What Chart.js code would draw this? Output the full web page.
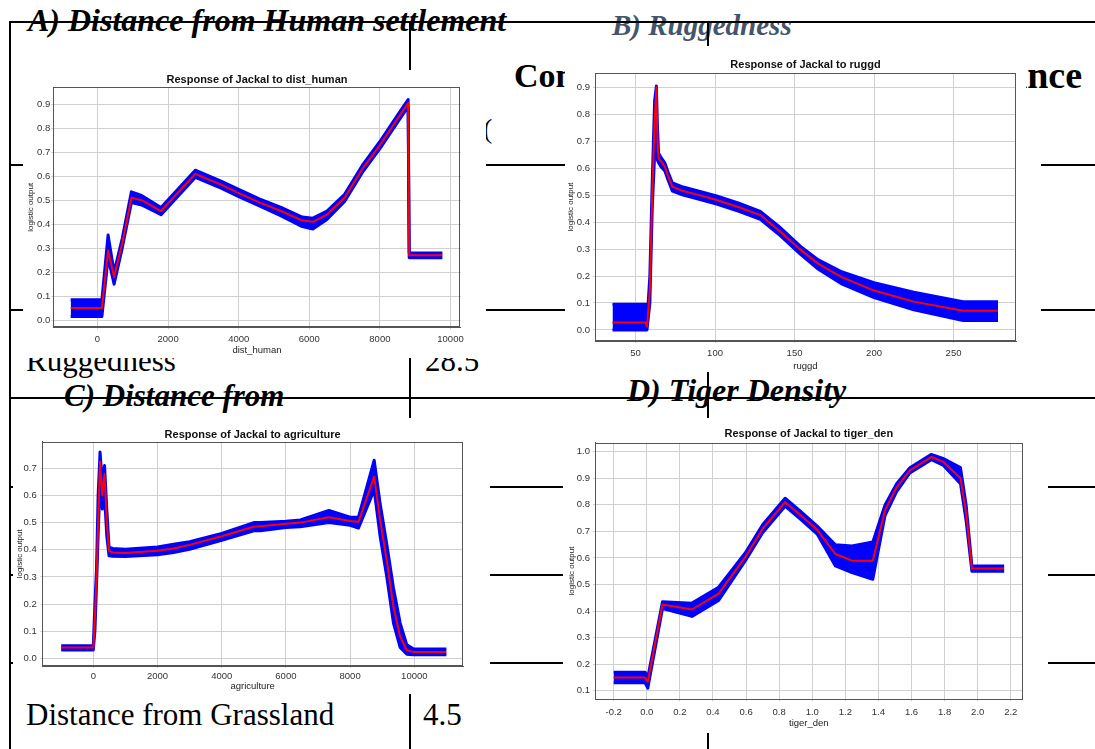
<!DOCTYPE html>
<html><head><meta charset="utf-8">
<title>Jackal response curves</title>
<script src="https://cdn.jsdelivr.net/npm/chart.js@4.4.1/dist/chart.umd.min.js"></script>
<style>
html,body{margin:0;padding:0;background:#fff;}
body{position:relative;width:1095px;height:749px;overflow:hidden;}
.ln{position:absolute;background:#000;z-index:1;}
.tx{position:absolute;white-space:nowrap;line-height:1;font-family:"Liberation Serif","Times New Roman",serif;color:#000;z-index:0;}
.bi{font-weight:bold;font-style:italic;}
.cv{position:absolute;background:#fff;z-index:2;}
</style></head>
<body>
<div class="tx bi" style="left:28px;top:4px;font-size:32px;">A) Distance from Human settlement</div>
<div class="tx bi" style="left:612px;top:11px;font-size:29px;color:#44546A;">B) Ruggedness</div>
<div class="tx" style="left:514px;top:59px;font-size:34px;font-weight:bold;">Contribution</div>
<div class="tx" style="right:13px;top:56px;font-size:38px;font-weight:bold;">Importance</div>
<div class="tx" style="left:483px;top:115px;font-size:28px;">(</div>
<div class="tx" style="left:26px;top:345px;font-size:31px;">Ruggedness</div>
<div class="tx" style="left:425px;top:345px;font-size:31px;">28.5</div>
<div class="tx bi" style="left:64px;top:380px;font-size:31px;">C) Distance from</div>
<div class="tx bi" style="left:627px;top:374px;font-size:32px;">D) Tiger Density</div>
<div class="tx" style="left:26px;top:699px;font-size:31px;">Distance from Grassland</div>
<div class="tx" style="left:423px;top:699px;font-size:31px;">4.5</div>

<div class="ln" style="left:10px;top:21px;width:1085px;height:2px;"></div>
<div class="ln" style="left:9px;top:21px;width:2px;height:728px;"></div>
<div class="ln" style="left:409px;top:21px;width:2px;height:728px;"></div>
<div class="ln" style="left:707px;top:21px;width:2px;height:728px;"></div>
<div class="ln" style="left:10px;top:164px;width:1012px;height:2px;"></div>
<div class="ln" style="left:1041px;top:164px;width:54px;height:2px;"></div>
<div class="ln" style="left:10px;top:309px;width:1012px;height:2px;"></div>
<div class="ln" style="left:1041px;top:309px;width:54px;height:2px;"></div>
<div class="ln" style="left:10px;top:397px;width:1085px;height:2px;"></div>
<div class="ln" style="left:10px;top:486px;width:1085px;height:2px;"></div>
<div class="ln" style="left:10px;top:574px;width:1085px;height:2px;"></div>
<div class="ln" style="left:10px;top:662px;width:1085px;height:2px;"></div>

<canvas id="cA" class="cv" width="463" height="288" style="left:23px;top:70px;"></canvas>
<canvas id="cB" class="cv" width="461" height="326" style="left:565px;top:46px;"></canvas>
<canvas id="cC" class="cv" width="477" height="276" style="left:13px;top:418px;"></canvas>
<canvas id="cD" class="cv" width="485" height="315" style="left:563px;top:418px;"></canvas>

<script>
// ---------- A) dist_human ----------
const xA     = [-760, 125, 300, 470, 700, 960, 1250, 1800, 2770, 3500, 4000, 4600, 5200, 5800, 6100, 6500, 7000, 7500, 8000, 8500, 8800, 8830, 9770];
const meanA  = [0.05, 0.05, 0.29, 0.18, 0.32, 0.51, 0.50, 0.455, 0.61, 0.565, 0.53, 0.49, 0.455, 0.415, 0.41, 0.44, 0.51, 0.63, 0.73, 0.84, 0.905, 0.27, 0.27];
const upperA = [0.085, 0.085, 0.355, 0.20, 0.34, 0.535, 0.52, 0.47, 0.625, 0.58, 0.545, 0.505, 0.47, 0.43, 0.425, 0.455, 0.525, 0.645, 0.745, 0.855, 0.92, 0.28, 0.28];
const lowerA = [0.015, 0.015, 0.26, 0.15, 0.30, 0.49, 0.48, 0.44, 0.595, 0.55, 0.515, 0.475, 0.435, 0.39, 0.38, 0.42, 0.495, 0.615, 0.715, 0.825, 0.89, 0.26, 0.26];
const xTicksA = [0, 2000, 4000, 6000, 8000, 10000];
const yTicksA = [0.0, 0.1, 0.2, 0.3, 0.4, 0.5, 0.6, 0.7, 0.8, 0.9];

// ---------- B) ruggd ----------
const xB     = [35.5, 56.3, 57.2, 59, 60.5, 62, 63.1, 63.8, 64.5, 66, 68.4, 70.5, 73.2, 80, 90, 101, 115, 128.5, 140, 153.8, 165, 180, 200, 225, 256, 278];
const meanB  = [0.028, 0.028, 0.012, 0.15, 0.5, 0.77, 0.90, 0.70, 0.637, 0.625, 0.606, 0.57, 0.531, 0.515, 0.50, 0.482, 0.455, 0.426, 0.37, 0.297, 0.245, 0.195, 0.146, 0.105, 0.071, 0.071];
const upperB = [0.095, 0.095, 0.03, 0.2, 0.55, 0.85, 0.905, 0.75, 0.655, 0.64, 0.62, 0.585, 0.545, 0.53, 0.515, 0.497, 0.47, 0.44, 0.385, 0.31, 0.26, 0.215, 0.175, 0.14, 0.105, 0.105];
const lowerB = [0.0, 0.0, 0.0, 0.1, 0.45, 0.65, 0.70, 0.63, 0.62, 0.605, 0.59, 0.555, 0.515, 0.50, 0.485, 0.467, 0.44, 0.41, 0.355, 0.28, 0.225, 0.17, 0.12, 0.075, 0.035, 0.035];
const xTicksB = [50, 100, 150, 200, 250];
const yTicksB = [0.0, 0.1, 0.2, 0.3, 0.4, 0.5, 0.6, 0.7, 0.8, 0.9];

// ---------- C) agriculture ----------
const xC     = [-1000, 0, 50, 100, 150, 210, 280, 350, 420, 490, 600, 1000, 2000, 2500, 3000, 4000, 5000, 5200, 6000, 6450, 7340, 8000, 8260, 8750, 8935, 9143, 9350, 9560, 9766, 9970, 11000];
const meanC  = [0.04, 0.04, 0.15, 0.30, 0.50, 0.725, 0.60, 0.68, 0.50, 0.395, 0.39, 0.388, 0.396, 0.405, 0.418, 0.45, 0.485, 0.487, 0.496, 0.50, 0.52, 0.506, 0.503, 0.67, 0.51, 0.36, 0.19, 0.08, 0.03, 0.024, 0.024];
const upperC = [0.047, 0.047, 0.2, 0.33, 0.6, 0.76, 0.65, 0.71, 0.55, 0.41, 0.405, 0.402, 0.41, 0.42, 0.43, 0.46, 0.50, 0.50, 0.505, 0.51, 0.545, 0.52, 0.52, 0.73, 0.57, 0.42, 0.26, 0.13, 0.05, 0.035, 0.035];
const lowerC = [0.031, 0.031, 0.1, 0.27, 0.45, 0.65, 0.55, 0.60, 0.45, 0.378, 0.376, 0.375, 0.382, 0.39, 0.402, 0.435, 0.47, 0.47, 0.482, 0.485, 0.5, 0.49, 0.48, 0.62, 0.45, 0.30, 0.13, 0.04, 0.015, 0.013, 0.013];
const xTicksC = [0, 2000, 4000, 6000, 8000, 10000];
const yTicksC = [0.0, 0.1, 0.2, 0.3, 0.4, 0.5, 0.6, 0.7];

// ---------- D) tiger_den ----------
const xD     = [-0.2, -0.01, 0.006, 0.095, 0.273, 0.434, 0.596, 0.70, 0.836, 0.93, 1.03, 1.14, 1.24, 1.366, 1.44, 1.51, 1.59, 1.72, 1.79, 1.896, 1.93, 1.965, 2.16];
const meanD  = [0.15, 0.15, 0.134, 0.425, 0.406, 0.466, 0.604, 0.71, 0.81, 0.761, 0.706, 0.615, 0.59, 0.59, 0.78, 0.866, 0.93, 0.98, 0.963, 0.90, 0.77, 0.56, 0.56];
const upperD = [0.17, 0.17, 0.15, 0.435, 0.43, 0.49, 0.62, 0.725, 0.825, 0.775, 0.72, 0.65, 0.645, 0.66, 0.80, 0.88, 0.94, 0.99, 0.975, 0.94, 0.80, 0.57, 0.57];
const lowerD = [0.13, 0.13, 0.11, 0.41, 0.38, 0.44, 0.59, 0.695, 0.795, 0.745, 0.69, 0.57, 0.545, 0.52, 0.76, 0.85, 0.92, 0.97, 0.95, 0.88, 0.74, 0.55, 0.55];
const xTicksD = [-0.2, 0.0, 0.2, 0.4, 0.6, 0.8, 1.0, 1.2, 1.4, 1.6, 1.8, 2.0, 2.2];
const yTicksD = [0.1, 0.2, 0.3, 0.4, 0.5, 0.6, 0.7, 0.8, 0.9, 1.0];

const FONT = '"Liberation Sans", Arial, sans-serif';
const fmt1 = v => (Math.abs(v) < 1e-9 ? 0 : v).toFixed(1);
const fmtInt = v => String(Math.round(v));

const frame = {
  id: 'frame',
  afterDatasetsDraw(chart) {
    const {ctx, chartArea: a} = chart;
    ctx.save();
    ctx.strokeStyle = '#555';
    ctx.lineWidth = 1;
    ctx.strokeRect(Math.round(a.left) + 0.5, Math.round(a.top) + 0.5,
                   Math.round(a.right - a.left) - 1, Math.round(a.bottom - a.top) - 1);
    ctx.restore();
  }
};

function responseChart(id, xs, mean, upper, lower, xTicks, yTicks, o) {
  const pts = arr => xs.map((x, i) => ({x: x, y: arr[i]}));
  const xH = o.H - o.B;
  return new Chart(document.getElementById(id), {
    type: 'line',
    data: {datasets: [
      {data: pts(upper), borderColor: '#0000ff', backgroundColor: '#0000ff', borderWidth: 3, fill: '+1', order: 2},
      {data: pts(lower), borderColor: '#0000ff', backgroundColor: '#0000ff', borderWidth: 3, fill: false, order: 1},
      {data: pts(mean), borderColor: '#ff0000', backgroundColor: '#ff0000', borderWidth: 2, fill: false, order: 0}
    ]},
    options: {
      responsive: false, animation: false, devicePixelRatio: 1,
      events: [],
      elements: {point: {radius: 0}, line: {tension: 0, borderJoinStyle: 'round'}},
      layout: {padding: {left: 0, right: o.W - o.R, top: 0, bottom: 0}},
      plugins: {
        legend: {display: false},
        tooltip: {enabled: false},
        title: {display: true, text: o.title, fullSize: false, align: 'center', color: '#111',
          font: {family: FONT, size: 11, weight: 'bold', lineHeight: 1.2},
          padding: {top: o.tTop, bottom: Math.max(0, o.T - o.tTop - 13.2)}}
      },
      scales: {
        x: {
          type: 'linear', position: 'bottom', min: o.xmin, max: o.xmax,
          afterBuildTicks: s => { s.ticks = xTicks.map(v => ({value: v})); },
          afterFit: s => { s.height = xH; s.paddingLeft = 0; s.paddingRight = 0; s.paddingTop = 0; s.paddingBottom = 0; },
          grid: {color: '#d0d0d0', lineWidth: 1, tickLength: 2},
          border: {color: '#555', width: 1},
          ticks: {autoSkip: false, maxRotation: 0, minRotation: 0,
                  padding: o.xpad, color: '#333', font: {family: FONT, size: 9.5}, callback: o.xfmt},
          title: {display: true, text: o.xlabel, color: '#222',
                  font: {family: FONT, size: 9.5, lineHeight: 1.2}, padding: {top: 0, bottom: o.xtPad}}
        },
        y: {
          type: 'linear', position: 'left', min: o.ymin, max: o.ymax,
          afterBuildTicks: s => { s.ticks = yTicks.map(v => ({value: v})); },
          afterFit: s => { s.width = o.L; s.paddingLeft = 0; s.paddingRight = 0; s.paddingTop = 0; s.paddingBottom = 0; },
          grid: {color: '#d0d0d0', lineWidth: 1, tickLength: 2},
          border: {color: '#555', width: 1},
          ticks: {autoSkip: false,
                  padding: o.ypad, color: '#333', font: {family: FONT, size: 9.5}, callback: fmt1},
          title: {display: true, text: 'logistic output', color: '#222',
                  font: {family: FONT, size: o.yf, lineHeight: 1.2}, padding: {top: o.ytPad, bottom: 0}}
        }
      }
    },
    plugins: [frame]
  });
}

responseChart('cA', xA, meanA, upperA, lowerA, xTicksA, yTicksA, {
  W: 463, H: 288, L: 30.3, T: 17.3, R: 437.7, B: 257.3, tTop: 3.4,
  xmin: -1252, xmax: 10289, ymin: -0.030, ymax: 0.971, xfmt: fmtInt,
  xpad: 4.3, ypad: 1, xtPad: 1.6, yf: 8, ytPad: 3,
  title: 'Response of Jackal to dist_human', xlabel: 'dist_human'
});
responseChart('cB', xB, meanB, upperB, lowerB, xTicksB, yTicksB, {
  W: 461, H: 326, L: 30, T: 27, R: 451, B: 295, tTop: 12.4,
  xmin: 24.5, xmax: 289.3, ymin: -0.041, ymax: 0.953, xfmt: fmtInt,
  xpad: 4.6, ypad: 3, xtPad: 0, yf: 8, ytPad: 0.9,
  title: 'Response of Jackal to ruggd', xlabel: 'ruggd'
});
responseChart('cC', xC, meanC, upperC, lowerC, xTicksC, yTicksC, {
  W: 477, H: 276, L: 29.3, T: 23.7, R: 450, B: 248, tTop: 10.4,
  xmin: -1589, xmax: 11517, ymin: -0.028, ymax: 0.798, xfmt: fmtInt,
  xpad: 2.3, ypad: 3.6, xtPad: 1.6, yf: 8, ytPad: 2,
  title: 'Response of Jackal to agriculture', xlabel: 'agriculture'
});
responseChart('cD', xD, meanD, upperD, lowerD, xTicksD, yTicksD, {
  W: 485, H: 315, L: 32, T: 24.7, R: 459.7, B: 281.3, tTop: 9.4,
  xmin: -0.313, xmax: 2.272, ymin: 0.068, ymax: 1.034, xfmt: fmt1,
  xpad: 5.7, ypad: 3, xtPad: 4, yf: 8, ytPad: 3.9,
  title: 'Response of Jackal to tiger_den', xlabel: 'tiger_den'
});
</script>
</body></html>
